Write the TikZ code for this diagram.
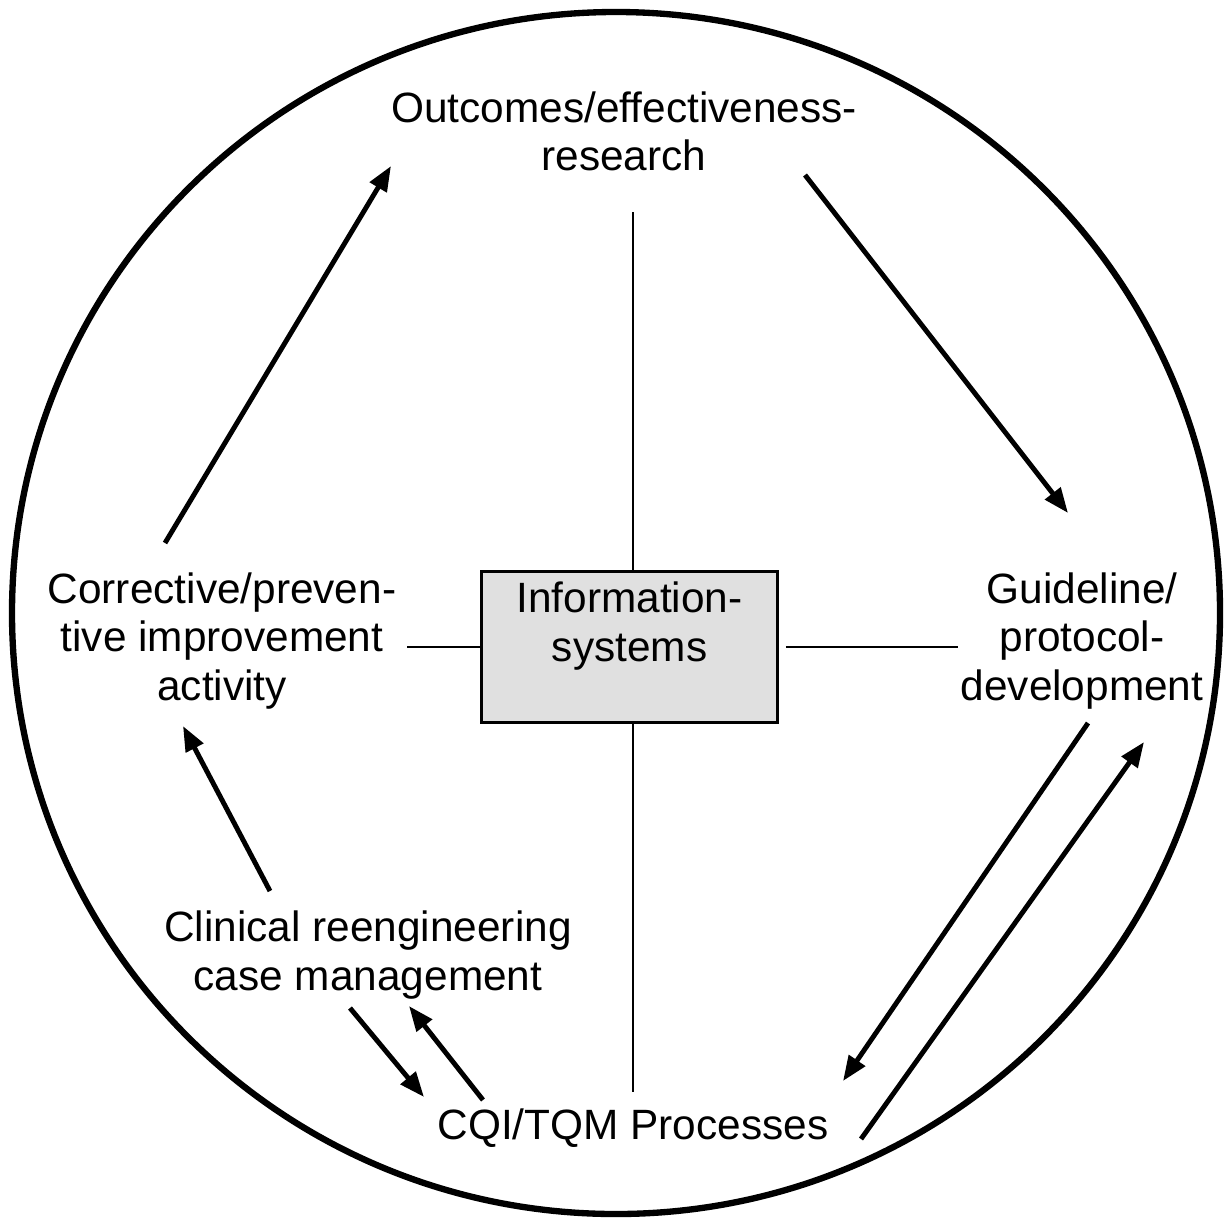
\documentclass[tikz,border=0pt]{standalone}
\usepackage{fontspec}
\setmainfont{Liberation Sans}
\usetikzlibrary{arrows.meta}
\begin{document}
\begin{tikzpicture}[x=0.01cm,y=-0.01cm,
  lbl/.style={align=center,inner sep=0pt,font=\fontsize{12.05}{13.7}\selectfont},
  arr/.style={line width=1.4pt,-{Triangle[length=0.25cm,width=0.19cm]}},
  thin/.style={line width=0.7pt}]
\useasboundingbox (0,0) rectangle (1225,1218);
\draw[line width=1.8pt] (616,613) ellipse [x radius=604, y radius=601];
% nodes
\node[lbl] (out) at (624,131) {Outcomes/effectiveness-\\research};
\node[lbl,draw,line width=0.75pt,fill=black!12,minimum width=2.96cm,minimum height=1.51cm] (info) at (629.5,647) {};
\node[lbl] (infot) at (629.5,626) {Information-\\systems};
\node[lbl] (corr) at (222,641) {Corrective/preven-\\tive improvement\\activity};
\node[lbl] (guide) at (1082,641) {Guideline/\\protocol-\\development};
\node[lbl] (clin) at (368,955) {Clinical reengineering\\case management};
\node[lbl] (cqi) at (633,1128) {CQI/TQM Processes};
% coordinates for free ends
\coordinate (vt) at (633,212);
\coordinate (vb) at (633,1092);
\coordinate (hl) at (407,647);
\coordinate (hr) at (958,647);
\draw[thin] (vt) -- (info.north -| vt);
\draw[thin] (info.south -| vb) -- (vb);
\draw[thin] (hl) -- (info.west);
\draw[thin] (info.east) ++(7,0) -- (hr);
% arrows
\coordinate (a1s) at (165,543); \coordinate (a1e) at (391,166);
\coordinate (a2s) at (805,175); \coordinate (a2e) at (1068,513);
\coordinate (a3s) at (1088,723); \coordinate (a3e) at (843,1081);
\coordinate (a4s) at (861,1139); \coordinate (a4e) at (1144,742);
\coordinate (a5s) at (270,891); \coordinate (a5e) at (183,726);
\coordinate (a6s) at (350,1008); \coordinate (a6e) at (424,1097);
\coordinate (a7s) at (483,1100); \coordinate (a7e) at (409,1006);
\draw[arr] (a1s) -- (a1e);
\draw[arr] (a2s) -- (a2e);
\draw[arr] (a3s) -- (a3e);
\draw[arr] (a4s) -- (a4e);
\draw[arr] (a5s) -- (a5e);
\draw[arr] (a6s) -- (a6e);
\draw[arr] (a7s) -- (a7e);
\end{tikzpicture}
\end{document}
